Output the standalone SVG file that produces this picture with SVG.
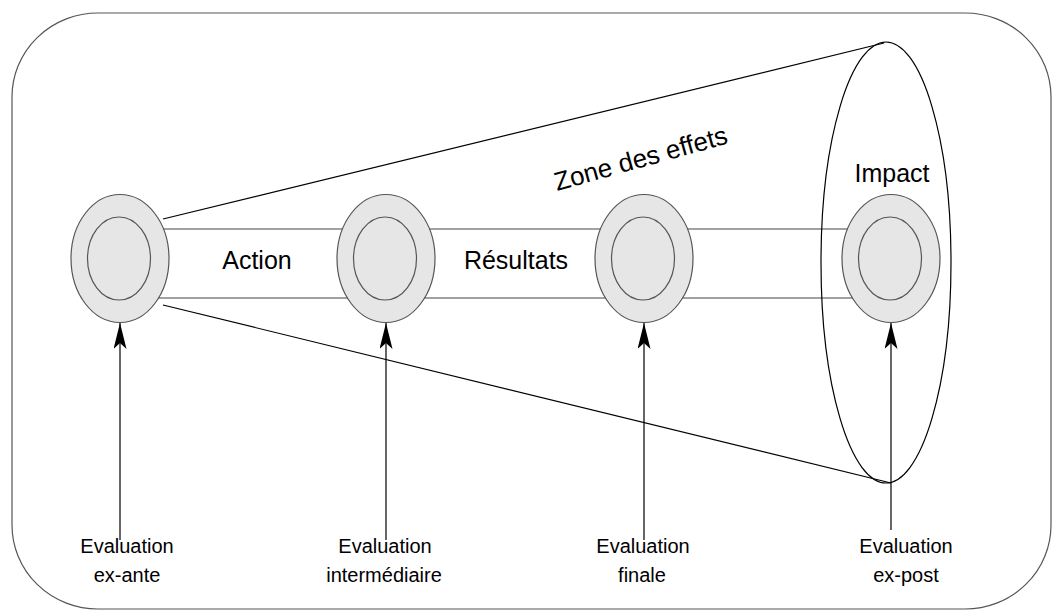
<svg xmlns="http://www.w3.org/2000/svg" width="1055" height="615" viewBox="0 0 1055 615">
<defs>
<style>
text{font-family:"Liberation Sans",Arial,sans-serif;fill:#000}
.big{font-size:25px}
.zone{font-size:26px}
.lbl{font-size:20px;text-anchor:middle}
.outer{fill:#e6e6e6;stroke:#555;stroke-width:1.2}
.inner{fill:#e6e6e6;stroke:#555;stroke-width:1.2}
.ln{stroke:#000;stroke-width:1.2;fill:none}
.gl{stroke:#444;stroke-width:1.1;fill:none}
</style>
<marker id="ah" viewBox="0 0 26 13" refX="26" refY="6.5" markerWidth="26" markerHeight="13" markerUnits="userSpaceOnUse" orient="auto">
<path d="M26,6.5 L0,0 L6,6.5 L0,13 Z" fill="#000"/>
</marker>
</defs>
<rect id="frame" x="12" y="13" width="1039" height="596" rx="86" ry="84" fill="#fff" stroke="#555" stroke-width="1.2"/>
<g id="connectors">
<line class="gl" x1="120" y1="229" x2="890" y2="229"/>
<line class="gl" x1="120" y1="298" x2="890" y2="298"/>
<line class="ln" x1="163" y1="219" x2="884" y2="43"/>
<line class="ln" x1="163" y1="305" x2="891" y2="483"/>
<ellipse id="zone" class="ln" cx="886" cy="262.5" rx="65" ry="220.5"/>
<line class="ln" x1="120" y1="540" x2="120" y2="323" marker-end="url(#ah)"/>
<line class="ln" x1="386" y1="540" x2="386" y2="323" marker-end="url(#ah)"/>
<line class="ln" x1="644" y1="540" x2="644" y2="323" marker-end="url(#ah)"/>
<line class="ln" x1="891" y1="530" x2="891" y2="323" marker-end="url(#ah)"/>
</g>
<g id="node1"><ellipse class="outer" cx="120" cy="258.5" rx="49" ry="64"/><ellipse class="inner" cx="119" cy="258.5" rx="31.5" ry="41.5"/></g>
<g id="node2"><ellipse class="outer" cx="386" cy="258.5" rx="49" ry="64"/><ellipse class="inner" cx="385" cy="258.5" rx="31.5" ry="41.5"/></g>
<g id="node3"><ellipse class="outer" cx="644" cy="258.5" rx="49" ry="64"/><ellipse class="inner" cx="643" cy="258.5" rx="31.5" ry="41.5"/></g>
<g id="node4"><ellipse class="outer" cx="891" cy="258.5" rx="49" ry="64"/><ellipse class="inner" cx="890" cy="258.5" rx="31.5" ry="41.5"/></g>
<g id="labels">
<text class="big" x="257" y="269" text-anchor="middle">Action</text>
<text class="big" x="516" y="269" text-anchor="middle">Résultats</text>
<text class="big" x="892" y="182" text-anchor="middle">Impact</text>
<text class="zone" x="643" y="167" text-anchor="middle" transform="rotate(-15.5 643 167)">Zone des effets</text>
</g>
<g id="eval1"><text class="lbl" x="127" y="553">Evaluation</text><text class="lbl" x="127" y="582">ex-ante</text></g>
<g id="eval2"><text class="lbl" x="385" y="553">Evaluation</text><text class="lbl" x="384" y="582">intermédiaire</text></g>
<g id="eval3"><text class="lbl" x="643" y="553">Evaluation</text><text class="lbl" x="642" y="582">finale</text></g>
<g id="eval4"><text class="lbl" x="906" y="553">Evaluation</text><text class="lbl" x="906" y="582">ex-post</text></g>
</svg>
